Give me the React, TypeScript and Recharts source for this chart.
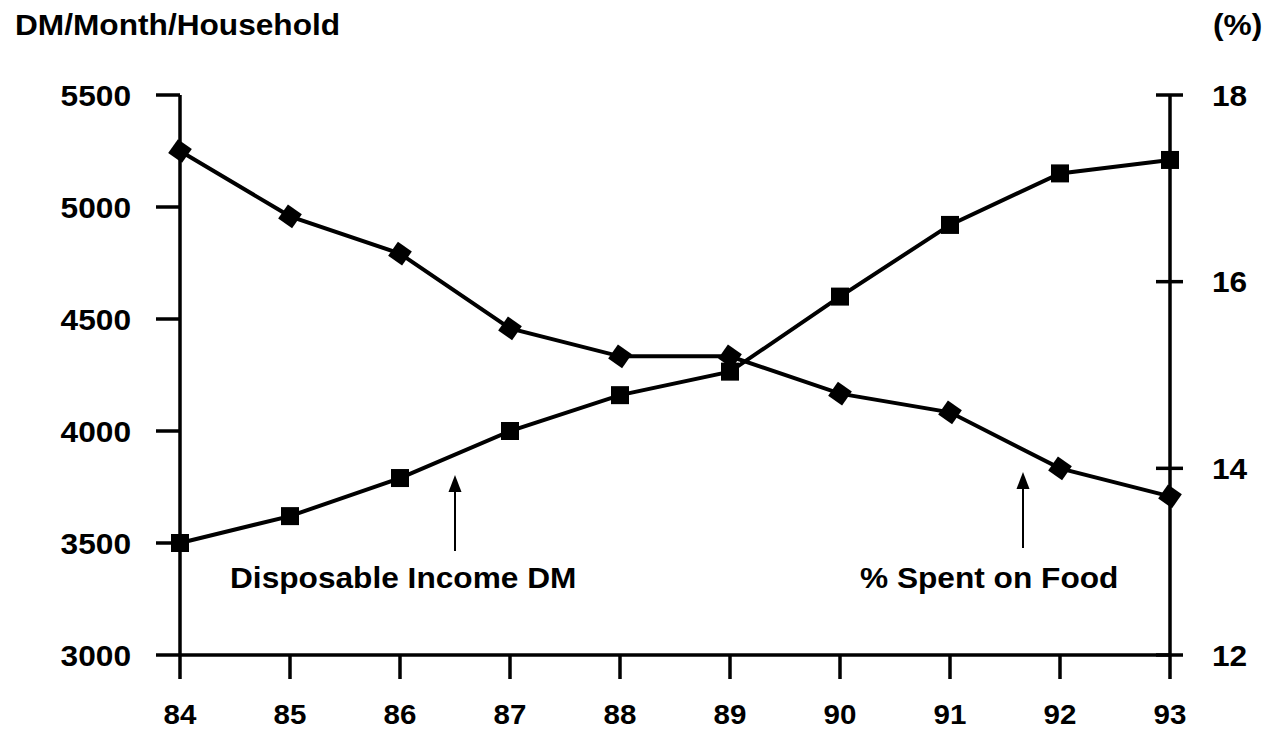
import { LineChart, Line, XAxis, YAxis } from "recharts";

// Household disposable income vs. share of it spent on food, 1984–1993
const years = [84, 85, 86, 87, 88, 89, 90, 91, 92, 93];
const incomeDM = [3500, 3620, 3790, 4000, 4160, 4265, 4600, 4920, 5150, 5210];
const foodShare = [17.4, 16.7, 16.3, 15.5, 15.2, 15.2, 14.8, 14.6, 14.0, 13.7];
const incomeTicks = [3000, 3500, 4000, 4500, 5000, 5500];
const shareTicks = [12, 14, 16, 18];

const data = years.map((year, i) => ({ year, income: incomeDM[i], share: foodShare[i] }));

const W = 1276;
const H = 731;
const FONT = "'Liberation Sans', Arial, Helvetica, sans-serif";
const textStyle = {
  fontFamily: FONT,
  fontWeight: 700,
  fontSize: 30,
  fill: "#000",
};

const RIGHT_TICK_SIZE = 13;
const RIGHT_TICK_MARGIN = 29;

// bold label, slightly widened like the old Helvetica print face
function Label({ x, y, anchor = "start", dy, size, children }: any) {
  return (
    <text
      transform={`translate(${x} ${y}) scale(1.055 1)`}
      dy={dy}
      textAnchor={anchor}
      style={size ? { ...textStyle, fontSize: size } : textStyle}
    >
      {children}
    </text>
  );
}

function YearTick({ x, y, payload }: any) {
  return (
    <Label x={x} y={y} dy="0.7em" anchor="middle" size={28}>
      {payload.value}
    </Label>
  );
}

function IncomeTick({ x, y, payload }: any) {
  return (
    <Label x={x} y={y} dy="0.355em" anchor="end">
      {payload.value}
    </Label>
  );
}

// right axis ticks cross the axis line, so draw the mark here
function ShareTick({ x, y, payload }: any) {
  const axisX = x - RIGHT_TICK_SIZE - RIGHT_TICK_MARGIN;
  return (
    <g>
      <line x1={axisX - 14} x2={axisX + 13} y1={y} y2={y} stroke="#000" strokeWidth={3.5} />
      <Label x={x} y={y} dy="0.355em">
        {payload.value}
      </Label>
    </g>
  );
}

function SquareDot({ cx, cy, index }: any) {
  return <rect key={`sq-${index}`} x={cx - 9} y={cy - 9} width={18} height={18} fill="#000" />;
}

function DiamondDot({ cx, cy, index }: any) {
  return (
    <rect
      key={`dm-${index}`}
      x={cx - 8.5}
      y={cy - 8.5}
      width={17}
      height={17}
      fill="#000"
      transform={`rotate(35 ${cx} ${cy})`}
    />
  );
}

function Arrow({ x, top, bottom }: { x: number; top: number; bottom: number }) {
  return (
    <g>
      <line x1={x} x2={x} y1={top + 16} y2={bottom} stroke="#000" strokeWidth={2} />
      <polygon points={`${x - 6.5},${top + 17} ${x + 6.5},${top + 17} ${x},${top}`} fill="#000" />
    </g>
  );
}

export default function App() {
  return (
    <div style={{ position: "absolute", left: 0, top: 0, width: W, height: H, background: "#fff" }}>
      <LineChart width={W} height={H} data={data} margin={{ top: 95, right: 0, bottom: 0, left: 0 }}>
        <XAxis
          dataKey="year"
          type="number"
          domain={[84, 93]}
          ticks={years}
          interval={0}
          height={76}
          axisLine={{ stroke: "#000", strokeWidth: 3.5 }}
          tickLine={{ stroke: "#000", strokeWidth: 3.5 }}
          tickSize={24}
          tickMargin={25}
          tick={<YearTick />}
        />
        <YAxis
          yAxisId="left"
          orientation="left"
          domain={[3000, 5500]}
          ticks={incomeTicks}
          interval={0}
          width={180}
          axisLine={{ stroke: "#000", strokeWidth: 3.5 }}
          tickLine={{ stroke: "#000", strokeWidth: 3.5 }}
          tickSize={24}
          tickMargin={25}
          tick={<IncomeTick />}
        />
        <YAxis
          yAxisId="right"
          orientation="right"
          domain={[12, 18]}
          ticks={shareTicks}
          interval={0}
          width={106}
          axisLine={{ stroke: "#000", strokeWidth: 3.5 }}
          tickLine={false}
          tickSize={RIGHT_TICK_SIZE}
          tickMargin={RIGHT_TICK_MARGIN}
          tick={<ShareTick />}
        />
        <Line
          yAxisId="left"
          dataKey="income"
          stroke="#000"
          strokeWidth={4}
          dot={SquareDot}
          activeDot={false}
          isAnimationActive={false}
        />
        <Line
          yAxisId="right"
          dataKey="share"
          stroke="#000"
          strokeWidth={4}
          dot={DiamondDot}
          activeDot={false}
          isAnimationActive={false}
        />
      </LineChart>

      {/* axis titles and series call-outs */}
      <svg
        width={W}
        height={H}
        style={{ position: "absolute", left: 0, top: 0, pointerEvents: "none" }}
      >
        <Label x={15} y={35}>DM/Month/Household</Label>
        <Label x={1213} y={35}>(%)</Label>
        <Label x={230} y={588}>Disposable Income DM</Label>
        <Label x={860} y={588}>% Spent on Food</Label>
        <Arrow x={455} top={475} bottom={551} />
        <Arrow x={1023} top={472} bottom={548} />
      </svg>
    </div>
  );
}
